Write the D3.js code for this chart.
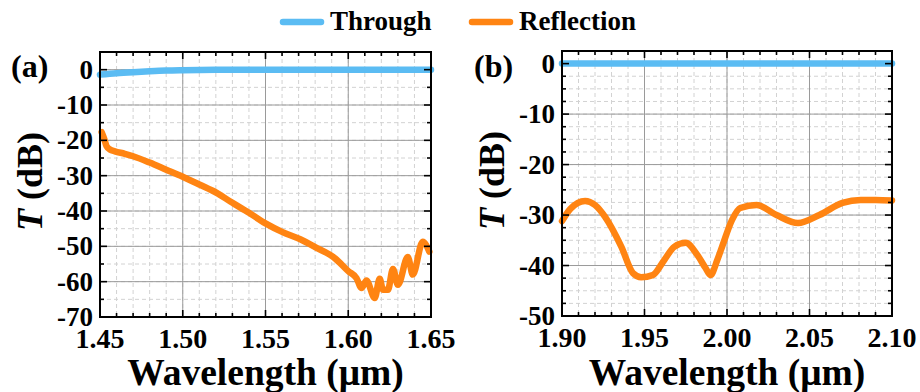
<!DOCTYPE html>
<html>
<head>
<meta charset="utf-8">
<script src="https://cdn.jsdelivr.net/npm/d3@7"></script>
</head>
<body style="margin:0;background:#fff">
<svg id="chart" width="920" height="392"></svg>
<script>
// ---- data ----
var seriesNames = ["Through", "Reflection"];
var seriesColors = ["#5bbcf3", "#ff8412"];

// panel (a)
var aThroughWl = [1.45, 1.46, 1.47, 1.48, 1.49, 1.50, 1.52, 1.55, 1.60, 1.65];
var aThroughT = [-1.4, -1.0, -0.7, -0.45, -0.25, -0.15, -0.05, 0, 0, 0];
var aReflWl = [1.451, 1.4525, 1.454, 1.456, 1.459, 1.465, 1.470, 1.480, 1.490, 1.500, 1.510, 1.521, 1.529, 1.540, 1.550, 1.560, 1.571, 1.580, 1.592, 1.600, 1.605, 1.608, 1.611, 1.616, 1.619, 1.621, 1.624, 1.627, 1.630, 1.636, 1.639, 1.645, 1.649];
var aReflT = [-17.7, -19.5, -21.7, -22.6, -23.1, -23.8, -24.5, -26.3, -28.3, -30.3, -32.5, -35.0, -37.4, -40.5, -43.5, -45.9, -48.0, -50.2, -53.4, -57.0, -59.0, -61.8, -59.7, -64.6, -59.2, -62.3, -62.3, -56.4, -60.9, -53.0, -58.0, -48.7, -51.5];
var aXTicks = [1.45, 1.50, 1.55, 1.60, 1.65];
var aYTicks = [0, -10, -20, -30, -40, -50, -60, -70];

// panel (b)
var bThroughWl = [1.90, 1.95, 2.00, 2.05, 2.10];
var bThroughT = [0, 0, 0, 0, 0];
var bReflWl = [1.900, 1.905, 1.914, 1.920, 1.926, 1.936, 1.943, 1.948, 1.955, 1.962, 1.968, 1.975, 1.982, 1.987, 1.990, 1.994, 1.997, 2.003, 2.008, 2.018, 2.030, 2.043, 2.056, 2.070, 2.081, 2.090, 2.100];
var bReflT = [-31.2, -28.8, -27.2, -28.0, -30.3, -36.3, -41.5, -42.3, -41.9, -38.9, -36.3, -35.5, -37.9, -40.5, -41.9, -39.0, -36.3, -31.0, -28.6, -28.0, -30.0, -31.6, -30.0, -27.6, -27.0, -27.0, -27.1];
var bXTicks = [1.90, 1.95, 2.00, 2.05, 2.10];
var bYTicks = [0, -10, -20, -30, -40, -50];

var FONT = "'Liberation Serif'";
var svg = d3.select("#chart");

function zip(xs, ys) {
	return xs.map(function (x, i) { return [x, ys[i]]; });
}

function styleText(sel, size) {
	return sel.style("font-family", FONT).attr("font-weight", "bold")
		.attr("font-size", size).attr("fill", "#000");
}

function drawPanel(cfg) {
	var x = d3.scaleLinear().domain(cfg.xDomain).range([cfg.left, cfg.right]);
	var y = d3.scaleLinear().domain(cfg.yDomain).range([cfg.bottom, cfg.top]);
	var g = svg.append("g");

	var xMinor = d3.range(cfg.xDomain[0], cfg.xDomain[1] + 1e-9, 0.01);
	var yMinor = d3.range(cfg.yDomain[0], cfg.yDomain[1] + 1e-9, cfg.yMinorStep);

	// minor grid (dashed)
	g.selectAll(".gx").data(xMinor).enter().append("line")
		.attr("x1", function (d) { return x(d); }).attr("x2", function (d) { return x(d); })
		.attr("y1", cfg.top).attr("y2", cfg.bottom)
		.attr("stroke", "#d2d2d2").attr("stroke-width", 1).attr("stroke-dasharray", "4,3");
	g.selectAll(".gy").data(yMinor).enter().append("line")
		.attr("y1", function (d) { return y(d); }).attr("y2", function (d) { return y(d); })
		.attr("x1", cfg.left).attr("x2", cfg.right)
		.attr("stroke", "#d2d2d2").attr("stroke-width", 1).attr("stroke-dasharray", "4,3");
	// major grid
	g.selectAll(".Gx").data(cfg.xTicks).enter().append("line")
		.attr("x1", function (d) { return x(d); }).attr("x2", function (d) { return x(d); })
		.attr("y1", cfg.top).attr("y2", cfg.bottom)
		.attr("stroke", "#9a9a9a").attr("stroke-width", 1);
	g.selectAll(".Gy").data(cfg.yTicks).enter().append("line")
		.attr("y1", function (d) { return y(d); }).attr("y2", function (d) { return y(d); })
		.attr("x1", cfg.left).attr("x2", cfg.right)
		.attr("stroke", "#9a9a9a").attr("stroke-width", 1);

	// series
	var line = d3.line().x(function (d) { return x(d[0]); }).y(function (d) { return y(d[1]); })
		.curve(d3.curveMonotoneX);
	g.append("path").datum(zip(cfg.reflWl, cfg.reflT))
		.attr("d", line)
		.attr("fill", "none").attr("stroke", seriesColors[1]).attr("stroke-width", 6.5)
		.attr("stroke-linejoin", "round").attr("stroke-linecap", "round");
	g.append("path").datum(zip(cfg.thrWl, cfg.thrT))
		.attr("d", line)
		.attr("fill", "none").attr("stroke", seriesColors[0]).attr("stroke-width", 6.5)
		.attr("stroke-linecap", "round");

	// ticks, all pointing inward
	function isMajor(v, list) {
		return list.some(function (t) { return Math.abs(t - v) < 1e-6; });
	}
	xMinor.forEach(function (v) {
		var len = isMajor(v, cfg.xTicks) ? 7 : 4;
		g.append("line").attr("x1", x(v)).attr("x2", x(v)).attr("y1", cfg.bottom).attr("y2", cfg.bottom - len)
			.attr("stroke", "#000").attr("stroke-width", 1.6);
		g.append("line").attr("x1", x(v)).attr("x2", x(v)).attr("y1", cfg.top).attr("y2", cfg.top + len)
			.attr("stroke", "#000").attr("stroke-width", 1.6);
	});
	yMinor.forEach(function (v) {
		var len = isMajor(v, cfg.yTicks) ? 7 : 4;
		g.append("line").attr("y1", y(v)).attr("y2", y(v)).attr("x1", cfg.left).attr("x2", cfg.left + len)
			.attr("stroke", "#000").attr("stroke-width", 1.6);
		g.append("line").attr("y1", y(v)).attr("y2", y(v)).attr("x1", cfg.right).attr("x2", cfg.right - len)
			.attr("stroke", "#000").attr("stroke-width", 1.6);
	});

	// frame
	g.append("rect").attr("x", cfg.left).attr("y", cfg.top)
		.attr("width", cfg.right - cfg.left).attr("height", cfg.bottom - cfg.top)
		.attr("fill", "none").attr("stroke", "#000").attr("stroke-width", 2);

	// tick labels
	styleText(g.selectAll(".xl").data(cfg.xTicks).enter().append("text")
		.attr("x", function (d) { return x(d); }).attr("y", cfg.bottom + 31)
		.attr("text-anchor", "middle"), 28)
		.text(function (d) { return d.toFixed(2); });
	styleText(g.selectAll(".yl").data(cfg.yTicks).enter().append("text")
		.attr("x", cfg.left - 7).attr("y", function (d) { return y(d) + 9; })
		.attr("text-anchor", "end"), 27)
		.text(function (d) { return d; });

	// axis titles
	styleText(g.append("text").attr("x", (cfg.left + cfg.right) / 2).attr("y", 385)
		.attr("text-anchor", "middle"), 37.5)
		.text("Wavelength (\u03bcm)");
	var yt = styleText(g.append("text")
		.attr("transform", "translate(" + (cfg.left - 58) + "," + ((cfg.top + cfg.bottom) / 2 - 3) + ") rotate(-90)")
		.attr("text-anchor", "middle"), 36);
	yt.append("tspan").attr("font-style", "italic").text("T");
	yt.append("tspan").text(" (dB)");

	// panel letter
	styleText(g.append("text").attr("x", cfg.letterX).attr("y", 77), 32).text(cfg.letter);
}

drawPanel({
	left: 100, right: 431, top: 52, bottom: 317,
	xDomain: [1.45, 1.65], yDomain: [-70, 5], yMinorStep: 5,
	xTicks: aXTicks, yTicks: aYTicks,
	thrWl: aThroughWl, thrT: aThroughT, reflWl: aReflWl, reflT: aReflT,
	letter: "(a)", letterX: 11
});
drawPanel({
	left: 562, right: 892, top: 51, bottom: 316,
	xDomain: [1.90, 2.10], yDomain: [-50, 2.5], yMinorStep: 2.5,
	xTicks: bXTicks, yTicks: bYTicks,
	thrWl: bThroughWl, thrT: bThroughT, reflWl: bReflWl, reflT: bReflT,
	letter: "(b)", letterX: 474
});

// legend
var legendX = [283, 472];
seriesNames.forEach(function (name, i) {
	var lg = svg.append("g");
	lg.append("line").attr("x1", legendX[i]).attr("x2", legendX[i] + 38).attr("y1", 22).attr("y2", 22)
		.attr("stroke", seriesColors[i]).attr("stroke-width", 6.5).attr("stroke-linecap", "round");
	styleText(lg.append("text").attr("x", legendX[i] + 47).attr("y", 30), 27).text(name);
});
</script>
</body>
</html>
